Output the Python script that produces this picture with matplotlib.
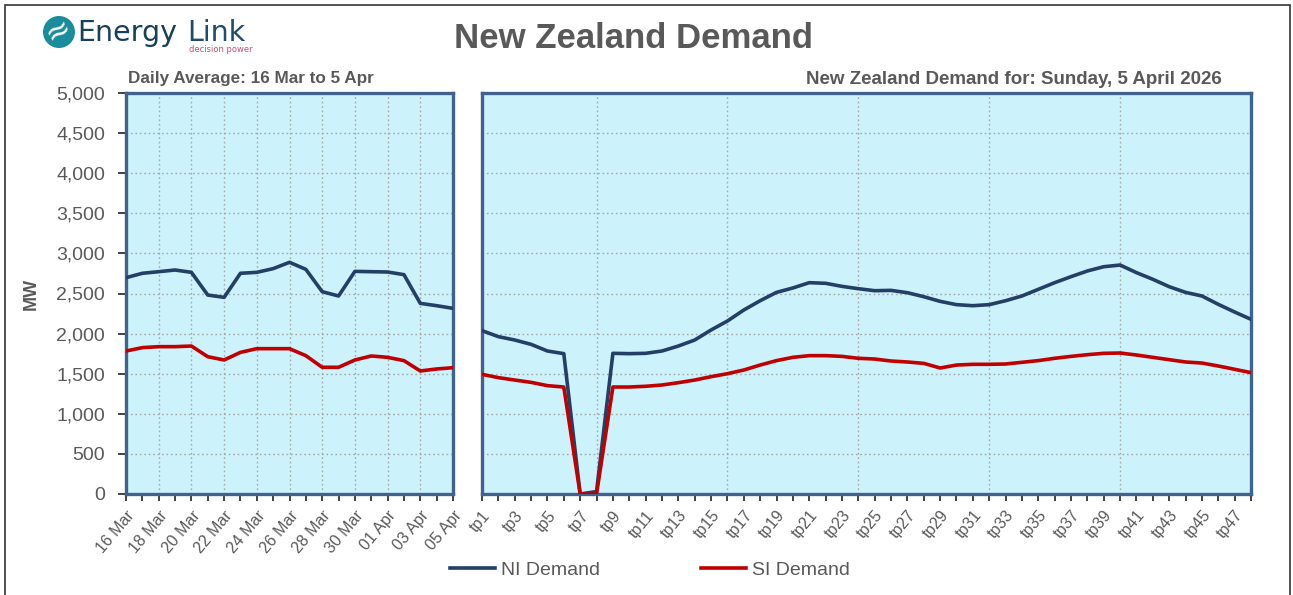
import matplotlib.pyplot as plt
from matplotlib.patches import Rectangle, Ellipse
from matplotlib.lines import Line2D

# daily averages, 16 Mar to 5 Apr
days = ["16 Mar", "17 Mar", "18 Mar", "19 Mar", "20 Mar", "21 Mar", "22 Mar",
        "23 Mar", "24 Mar", "25 Mar", "26 Mar", "27 Mar", "28 Mar", "29 Mar",
        "30 Mar", "31 Mar", "01 Apr", "02 Apr", "03 Apr", "04 Apr", "05 Apr"]
ni_daily = [2697, 2752, 2772, 2793, 2764, 2481, 2452, 2752, 2764, 2810, 2889,
            2801, 2523, 2469, 2776, 2772, 2768, 2735, 2377, 2348, 2315]
si_daily = [1783, 1825, 1837, 1837, 1845, 1712, 1671, 1766, 1812, 1812, 1812,
            1725, 1580, 1580, 1671, 1721, 1704, 1663, 1534, 1559, 1575]

# trading periods for Sunday 5 April 2026
tps = ["tp%d" % i for i in range(1, 49)]
ni_tp = [2037, 1962, 1920, 1866, 1783, 1750, 0, 30, 1754, 1750, 1754, 1783,
         1845, 1920, 2045, 2157, 2294, 2410, 2514, 2569, 2635, 2627, 2589, 2560,
         2535, 2539, 2510, 2460, 2402, 2361, 2348, 2361, 2410, 2469, 2552, 2635,
         2710, 2781, 2834, 2855, 2760, 2677, 2585, 2514, 2469, 2365, 2269, 2178]
si_tp = [1492, 1451, 1421, 1392, 1351, 1334, 0, 0, 1334, 1334, 1343, 1359,
         1388, 1421, 1463, 1500, 1546, 1608, 1663, 1704, 1725, 1725, 1716, 1692,
         1683, 1658, 1646, 1629, 1571, 1608, 1617, 1617, 1621, 1642, 1663, 1692,
         1716, 1737, 1754, 1758, 1733, 1704, 1675, 1646, 1633, 1596, 1555, 1513]

NI_COL = "#243F66"
SI_COL = "#C00000"
GREY = "#595959"
BG = "#CCF3FB"
SPINE = "#41618F"

plt.rcParams['font.family'] = ['Liberation Sans', 'DejaVu Sans']

W, H = 1293, 595
fig = plt.figure(figsize=(W / 100, H / 100), dpi=100)


def box(x0, y0, x1, y1):
    return [x0 / W, 1 - y1 / H, (x1 - x0) / W, (y1 - y0) / H]


ax1 = fig.add_axes(box(126, 93, 453, 494))
ax2 = fig.add_axes(box(482, 93, 1251, 494))

# (axes, labels, ni, si, first vertical grid index, grid step)
for ax, labels, ni, si, g0, gstep in [
        (ax1, days, ni_daily, si_daily, 2, 2),
        (ax2, tps, ni_tp, si_tp, 7, 8)]:
    x = list(range(len(labels)))
    ax.set_facecolor(BG)
    ax.plot(x, ni, color=NI_COL, lw=2.6, solid_joinstyle="round", zorder=3)
    ax.plot(x, si, color=SI_COL, lw=2.6, solid_joinstyle="round", zorder=3)
    ax.set_xlim(0, len(labels) - 1)
    ax.set_ylim(0, 5000)
    ax.set_yticks(range(0, 5001, 500))
    ax.set_xticks(x)
    ax.set_xticklabels([l if i % 2 == 0 else "" for i, l in enumerate(labels)],
                       rotation=50, ha="right", rotation_mode="anchor",
                       fontsize=11.5, color=GREY)
    ax.tick_params(axis="x", length=5, width=1.2, color="#222222", pad=5)
    for v in range(500, 5000, 500):
        ax.axhline(v, color="#A6A6A6", lw=1, ls=(0, (1.2, 2)), zorder=1)
    for i in range(g0, len(labels) - 1, gstep):
        ax.axvline(i, color="#A6A6A6", lw=1, ls=(0, (1.2, 2)), zorder=1)
    for s in ax.spines.values():
        s.set_color(SPINE)
        s.set_linewidth(2.4)

ax1.set_yticklabels(["{:,}".format(v) for v in range(0, 5001, 500)],
                    fontsize=14, color=GREY)
ax1.tick_params(axis="y", length=6, width=1.2, color="#222222", pad=9)
ax1.set_ylabel("MW", fontsize=13, fontweight="bold", color=GREY, labelpad=12)
ax2.tick_params(axis="y", left=False, labelleft=False)

fig.text(633 / W, 1 - 38 / H, "New Zealand Demand", ha="center", va="center",
         fontsize=25, fontweight="bold", color=GREY)
fig.text(128 / W, 1 - 79 / H, "Daily Average: 16 Mar to 5 Apr", ha="left",
         va="center", fontsize=12.3, fontweight="bold", color=GREY)
fig.text(1222 / W, 1 - 79 / H, "New Zealand Demand for: Sunday, 5 April 2026",
         ha="right", va="center", fontsize=13.5, fontweight="bold", color=GREY)

# logo
fig.patches.append(Ellipse((59 / W, 1 - 32 / H), 32 / W, 32 / H,
                           transform=fig.transFigure,
                           facecolor="#1B8C9C", edgecolor="none"))
fig.text(59 / W, 1 - 31 / H, "≈", ha="center", va="center", fontsize=22,
         color="white", rotation=30, family="DejaVu Sans")
fig.text(77 / W, 1 - 33 / H, "Energy", ha="left", va="center", fontsize=20.5,
         color="#16405B", family="DejaVu Sans")
fig.text(187 / W, 1 - 33 / H, "Link", ha="left", va="center", fontsize=20.5,
         color="#1E4C6E", family="DejaVu Sans")
fig.text(189 / W, 1 - 49 / H, "decision power", ha="left", va="center",
         fontsize=6, color="#C0506E", family="DejaVu Sans")

# legend
handles = [Line2D([], [], color=NI_COL, lw=2.6), Line2D([], [], color=SI_COL, lw=2.6)]
fig.legend(handles, ["NI Demand", "SI Demand"], loc="center",
           bbox_to_anchor=(650 / W, 1 - 570 / H), ncol=2, frameon=False,
           fontsize=14, labelcolor=GREY, handlelength=2.3, handletextpad=0.3,
           columnspacing=5.2)

fig.patches.append(Rectangle((5 / W, -0.01), (1290 - 5) / W, 1 - 5 / H + 0.01,
                             transform=fig.transFigure, fill=False,
                             edgecolor="#333333", lw=1.2))

fig.savefig("out.png", dpi=100, facecolor="white")
